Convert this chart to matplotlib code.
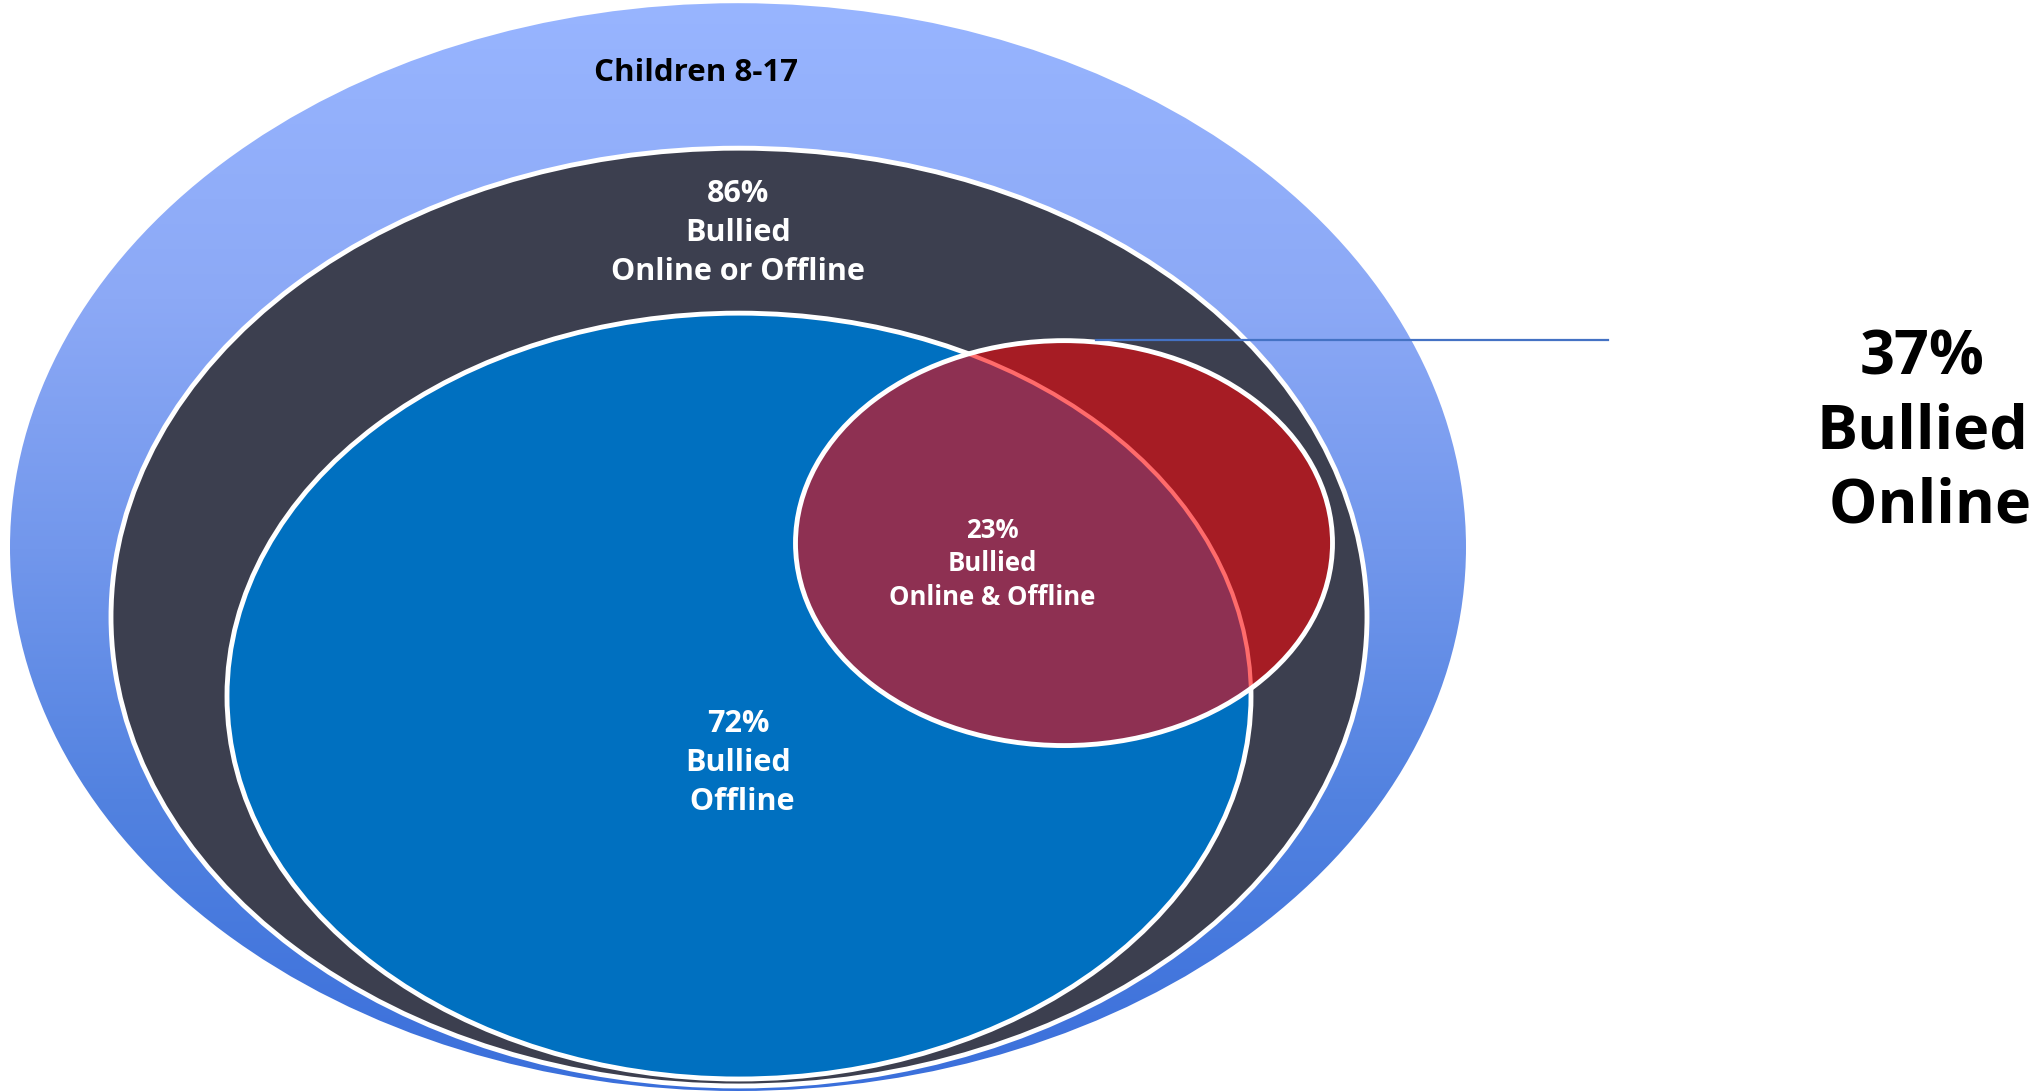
import numpy as np
import matplotlib
matplotlib.use('Agg')
import matplotlib.pyplot as plt
from matplotlib.patches import Ellipse
from matplotlib.colors import to_rgb

plt.rcParams['font.family'] = ['Open Sans', 'DejaVu Sans']

# data
population = "Children 8-17"
groups = ["Online or Offline", "Offline", "Online & Offline", "Online"]
percents = [86, 72, 23, 37]

# canvas in pixel coords
W, H = 2033, 1092
fig = plt.figure(figsize=(20.33, 10.918), dpi=100)
ax = fig.add_axes([0, 0, 1, 1])
ax.set_xlim(0, W)
ax.set_ylim(H, 0)
ax.axis('off')

# ellipse geometry (center x, center y, width, height)
outer = (738, 548, 1456, 1088)
dark = (739, 618, 1256, 938)
blue = (739, 697, 1024, 766)
red = (1064, 544, 537, 405)

def ell(g, **kw):
    return Ellipse((g[0], g[1]), g[2], g[3], transform=ax.transData, **kw)

# outer ellipse with vertical gradient
stops_y = [0, 300, 550, 800, 1092]
stops_c = ['#98b5ff', '#8ca9f6', '#7297ec', '#5282e0', '#3a6fdb']
ys = np.arange(H)
rgb = np.array([to_rgb(c) for c in stops_c])
grad = np.stack([np.interp(ys, stops_y, rgb[:, k]) for k in range(3)], axis=-1)[:, None, :]
outer_patch = ell(outer, fc='none', ec='none')
ax.add_patch(outer_patch)
im = ax.imshow(grad, extent=[outer[0] - outer[2] / 2, outer[0] + outer[2] / 2, H, 0],
               aspect='auto', origin='upper', zorder=1)
im.set_clip_path(outer_patch)

ax.add_patch(ell(dark, fc='#3c3f4f', ec='white', lw=3.5, zorder=2))
ax.add_patch(ell(blue, fc='#0070c0', ec='white', lw=3.5, zorder=3))
ax.add_patch(ell(red, fc='#a61c24', ec='none', zorder=4))

# overlap of offline and online
blue_clip = ell(blue, fc='none')
red_clip = ell(red, fc='none')
inter = ax.add_patch(ell(red, fc='#8e3052', ec='none', zorder=5))
inter.set_clip_path(blue_clip)
arc = ax.add_patch(ell(blue, fc='none', ec='#ff6b6b', lw=3, zorder=6))
arc.set_clip_path(red_clip)
ax.add_patch(ell(red, fc='none', ec='white', lw=3.5, zorder=7))

# callout line
ax.plot([1096, 1608], [341, 341], color='#4472c4', lw=1.6, zorder=8)

# labels
ax.text(696, 73, population, ha='center', va='center', fontsize=22.5,
        fontweight='bold', color='black', zorder=9)
ax.text(738, 233, f"{percents[0]}%\nBullied\n{groups[0]}", ha='center', va='center',
        fontsize=22, fontweight='bold', color='white', linespacing=1.38, zorder=9)
ax.text(738, 763, f"{percents[1]}%\nBullied\n {groups[1]}", ha='center', va='center',
        fontsize=22, fontweight='bold', color='white', linespacing=1.38, zorder=9)
ax.text(992, 564, f"{percents[2]}%\nBullied\n{groups[2]}", ha='center', va='center',
        fontsize=18.5, fontweight='bold', color='white', linespacing=1.3, zorder=9)
ax.text(1922, 433, f"{percents[3]}%\nBullied\n {groups[3]}", ha='center', va='center',
        fontsize=44, fontweight='bold', color='black', linespacing=1.29, zorder=9)

fig.savefig('out.png', dpi=100, facecolor='white')
